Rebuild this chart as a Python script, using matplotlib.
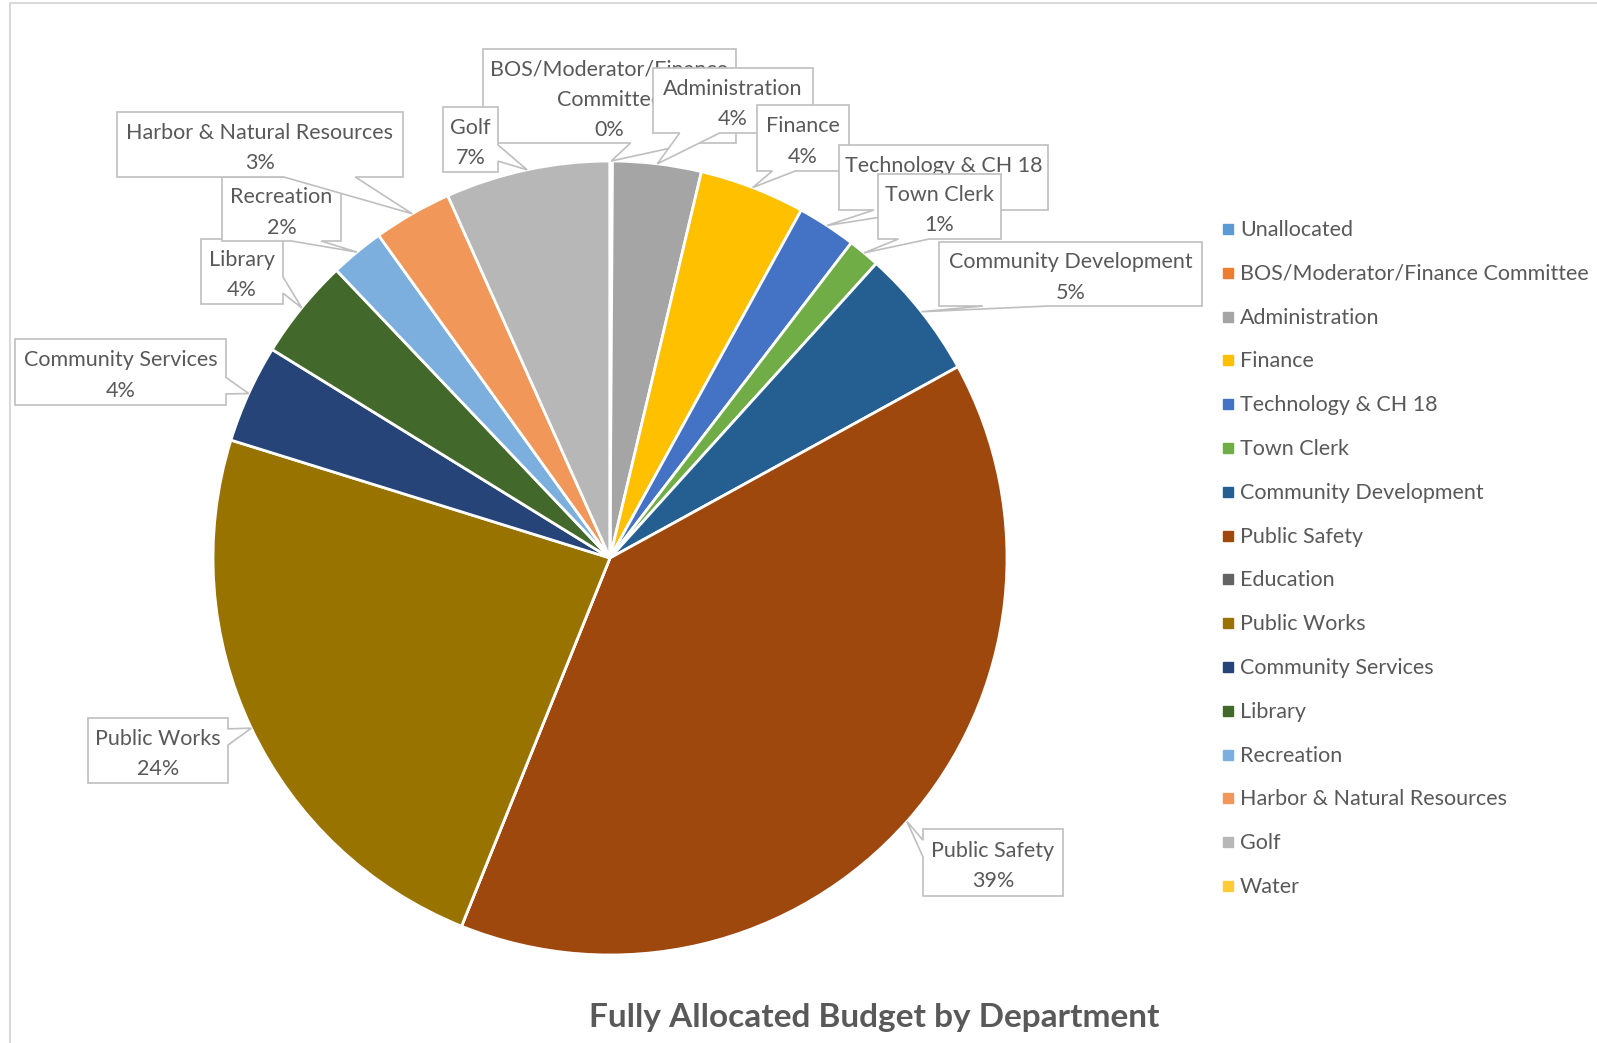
import numpy as np
import matplotlib
matplotlib.use("Agg")
import matplotlib.pyplot as plt
from matplotlib.patches import Polygon

plt.rcParams['font.family'] = ['Lato', 'DejaVu Sans']

# ---- data -------------------------------------------------------------
departments = ["Unallocated", "BOS/Moderator/Finance Committee", "Administration",
               "Finance", "Technology & CH 18", "Town Clerk", "Community Development",
               "Public Safety", "Education", "Public Works", "Community Services",
               "Library", "Recreation", "Harbor & Natural Resources", "Golf", "Water"]
shares = [0.0, 0.1, 3.6, 4.3, 2.4, 1.3, 5.3, 39.1, 0.0, 23.7, 4.0, 4.1, 2.2, 3.2, 6.7, 0.0]
colors = ["#5B9BD5", "#ED7D31", "#A5A5A5", "#FFC000", "#4472C4", "#70AD47", "#255E91",
          "#9E480E", "#636363", "#997300", "#264478", "#43682B", "#7CAFDD", "#F1975A",
          "#B7B7B7", "#FFCD33"]

# callout label names (wrapped like the original)
callout_names = {
    "BOS/Moderator/Finance Committee": "BOS/Moderator/Finance\nCommittee",
}

# ---- layout (pixels) ----------------------------------------------------
W, H = 1597, 1043
center = (610, 558)
radius = 397
# callout boxes: x0, y0, x1, y1
boxes = {
    "BOS/Moderator/Finance Committee": (483, 49, 736, 143),
    "Administration": (653, 68, 813, 133),
    "Finance": (757, 105, 849, 171),
    "Technology & CH 18": (839, 145, 1048, 210),
    "Town Clerk": (878, 174, 1001, 239),
    "Community Development": (939, 242, 1202, 306),
    "Public Safety": (923, 829, 1063, 896),
    "Public Works": (88, 718, 228, 783),
    "Community Services": (15, 339, 226, 405),
    "Library": (201, 239, 283, 304),
    "Recreation": (222, 177, 341, 241),
    "Harbor & Natural Resources": (117, 112, 403, 177),
    "Golf": (443, 107, 498, 172),
}
TEXT = "#595959"
EDGE = "#BFBFBF"
FS = 15.5


def callout(ax, text, box, tip, z):
    x0, y0, x1, y1 = box
    w, h = x1 - x0, y1 - y0
    cx, cy = (x0 + x1) / 2, (y0 + y1) / 2
    dx, dy = tip[0] - cx, tip[1] - cy
    if abs(dy) * w > abs(dx) * h:
        a, b = (x0 + w * 7 / 12, x0 + w * 10 / 12) if dx > 0 else (x0 + w * 2 / 12, x0 + w * 5 / 12)
        if dy > 0:
            pts = [(x0, y0), (x1, y0), (x1, y1), (b, y1), tip, (a, y1), (x0, y1)]
        else:
            pts = [(x0, y0), (a, y0), tip, (b, y0), (x1, y0), (x1, y1), (x0, y1)]
    else:
        a, b = (y0 + h * 7 / 12, y0 + h * 10 / 12) if dy > 0 else (y0 + h * 2 / 12, y0 + h * 5 / 12)
        if dx > 0:
            pts = [(x0, y0), (x1, y0), (x1, a), tip, (x1, b), (x1, y1), (x0, y1)]
        else:
            pts = [(x0, y0), (x1, y0), (x1, y1), (x0, y1), (x0, b), tip, (x0, a)]
    ax.add_patch(Polygon(pts, closed=True, facecolor="white", edgecolor=EDGE,
                         linewidth=1.2, zorder=z))
    ax.text(cx, cy + 3.5, text, ha="center", va="center", color=TEXT, fontsize=FS,
            linespacing=1.63, zorder=z + 0.05)


fig = plt.figure(figsize=(W / 100, H / 100), dpi=100)
ax = fig.add_axes([0, 0, 1, 1])

wedges, _ = ax.pie(shares, colors=colors, radius=radius, center=center,
                   startangle=-90, counterclock=True,
                   wedgeprops=dict(edgecolor="white", linewidth=2))

ax.set_xlim(0, W)
ax.set_ylim(H, 0)
ax.set_aspect("equal")
ax.axis("off")

total = sum(shares)
for i, (name, val, wdg) in enumerate(zip(departments, shares, wedges)):
    if name not in boxes:
        continue
    mid = np.deg2rad((wdg.theta1 + wdg.theta2) / 2)
    tip = (center[0] + radius * np.cos(mid), center[1] + radius * np.sin(mid))
    label = callout_names.get(name, name) + "\n" + f"{val / total * 100:.0f}%"
    callout(ax, label, boxes[name], tip, 3 + i * 0.1)

# legend
leg_x, leg_y0, leg_dy = 1228, 229, 43.8
for i, (name, col) in enumerate(zip(departments, colors)):
    y = leg_y0 + i * leg_dy
    ax.plot([leg_x], [y], marker="s", markersize=6.5, color=col, linestyle="none")
    ax.text(leg_x + 12, y + 1, name, ha="left", va="center", color=TEXT, fontsize=FS)

# title
ax.text(874, 1018, "Fully Allocated Budget by Department", ha="center", va="center",
        color=TEXT, fontsize=24, fontweight="bold")

# chart area border
ax.plot([10, 10, W], [H, 3, 3], color="#D9D9D9", linewidth=1.5, clip_on=False)

fig.savefig("out.png", dpi=100)
